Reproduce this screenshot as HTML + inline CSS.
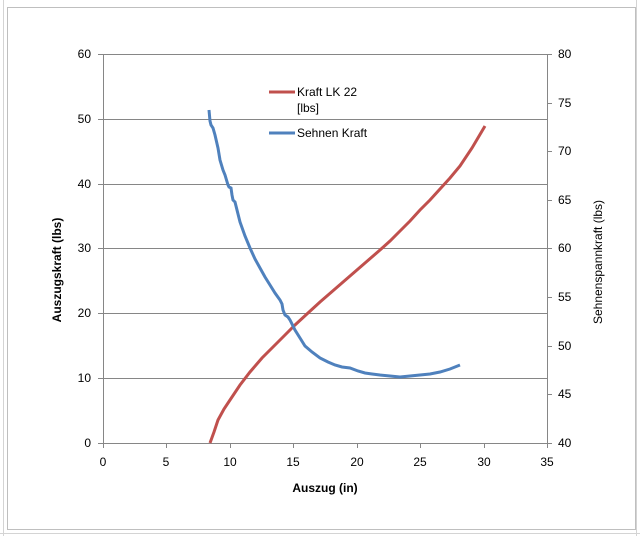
<!DOCTYPE html>
<html><head><style>
body{margin:0;width:640px;height:536px;background:#fff;overflow:hidden}
svg text{font-family:"Liberation Sans",sans-serif;font-size:12px;fill:#000}
</style></head><body>
<svg width="640" height="536" xmlns="http://www.w3.org/2000/svg">
<g stroke="#d4d4d4" stroke-width="1">
<line x1="0" y1="533.5" x2="640" y2="533.5"/>
<line x1="3.5" y1="0" x2="3.5" y2="536"/>
<line x1="636.5" y1="0" x2="636.5" y2="536"/>
</g>
<rect x="7.5" y="7.5" width="628" height="522" fill="#fff" stroke="#bfbfbf"/>
<g stroke="#868686" stroke-width="1">
<line x1="103" y1="54.5" x2="547" y2="54.5"/>
<line x1="103" y1="119.5" x2="547" y2="119.5"/>
<line x1="103" y1="184.5" x2="547" y2="184.5"/>
<line x1="103" y1="248.5" x2="547" y2="248.5"/>
<line x1="103" y1="313.5" x2="547" y2="313.5"/>
<line x1="103" y1="378.5" x2="547" y2="378.5"/>
<line x1="103" y1="443.5" x2="547" y2="443.5"/>
<line x1="103.5" y1="54" x2="103.5" y2="443"/>
<line x1="547.5" y1="54" x2="547.5" y2="443"/>
<line x1="98" y1="54.5" x2="103" y2="54.5"/><line x1="98" y1="119.5" x2="103" y2="119.5"/><line x1="98" y1="184.5" x2="103" y2="184.5"/><line x1="98" y1="248.5" x2="103" y2="248.5"/><line x1="98" y1="313.5" x2="103" y2="313.5"/><line x1="98" y1="378.5" x2="103" y2="378.5"/><line x1="98" y1="443.5" x2="103" y2="443.5"/>
<line x1="547" y1="54.5" x2="552" y2="54.5"/><line x1="547" y1="103.5" x2="552" y2="103.5"/><line x1="547" y1="151.5" x2="552" y2="151.5"/><line x1="547" y1="200.5" x2="552" y2="200.5"/><line x1="547" y1="248.5" x2="552" y2="248.5"/><line x1="547" y1="297.5" x2="552" y2="297.5"/><line x1="547" y1="346.5" x2="552" y2="346.5"/><line x1="547" y1="394.5" x2="552" y2="394.5"/><line x1="547" y1="443.5" x2="552" y2="443.5"/>
<line x1="103.5" y1="443" x2="103.5" y2="448"/><line x1="166.5" y1="443" x2="166.5" y2="448"/><line x1="230.5" y1="443" x2="230.5" y2="448"/><line x1="293.5" y1="443" x2="293.5" y2="448"/><line x1="357.5" y1="443" x2="357.5" y2="448"/><line x1="420.5" y1="443" x2="420.5" y2="448"/><line x1="484.5" y1="443" x2="484.5" y2="448"/><line x1="547.5" y1="443" x2="547.5" y2="448"/>
</g>
<g text-anchor="end">
<text x="91" y="58">60</text><text x="91" y="123">50</text><text x="91" y="188">40</text><text x="91" y="252">30</text><text x="91" y="317">20</text><text x="91" y="382">10</text><text x="91" y="447">0</text>
</g>
<g>
<text x="558" y="58">80</text><text x="558" y="107">75</text><text x="558" y="155">70</text><text x="558" y="204">65</text><text x="558" y="252">60</text><text x="558" y="301">55</text><text x="558" y="350">50</text><text x="558" y="398">45</text><text x="558" y="447">40</text>
</g>
<g text-anchor="middle">
<text x="103" y="466">0</text><text x="166" y="466">5</text><text x="230" y="466">10</text><text x="293" y="466">15</text><text x="357" y="466">20</text><text x="420" y="466">25</text><text x="484" y="466">30</text><text x="547" y="466">35</text>
<text x="325" y="492" font-weight="bold">Auszug (in)</text>
<text transform="translate(61,270) rotate(-90)" font-weight="bold">Auszugskraft (lbs)</text>
<text transform="translate(602,262) rotate(-90)">Sehnenspannkraft (lbs)</text>
</g>
<polyline fill="none" stroke="#c0504d" stroke-width="3" points="210,443 214,432 218,420 224,409 230,400 240,385 250,372 262,358 275,345 285,335 295,325 308,313 320,302 335,289 350,276 365,263 380,250 390,241 400,231 410,221 420,210 430,200 440,189 450,178 460,166 472,148 485,126"/>
<polyline fill="none" stroke="#4f81bd" stroke-width="3" points="209,110 210,121 211,125 213,128 215,135 218,148 220,160 223,170 225,175 228,185 229,187 231,188 232,195 233,200 235,202 236,206 238,214 240,222 245,236 250,248 255,259 260,268 265,277 270,285 275,293 280,300 282,304 283,310 285,315 288,317 290,320 295,330 300,338 305,346 312,352 320,358 328,362 335,365 342,367 350,368 358,371 365,373 372,374 380,375 390,376 400,377 410,376 420,375 430,374 440,372 450,369 460,365"/>
<line x1="269" y1="92" x2="295" y2="92" stroke="#c0504d" stroke-width="3"/>
<line x1="269" y1="133" x2="295" y2="133" stroke="#4f81bd" stroke-width="3"/>
<text x="297" y="96">Kraft LK 22</text>
<text x="297" y="112">[lbs]</text>
<text x="297" y="137">Sehnen Kraft</text>
</svg>
</body></html>
